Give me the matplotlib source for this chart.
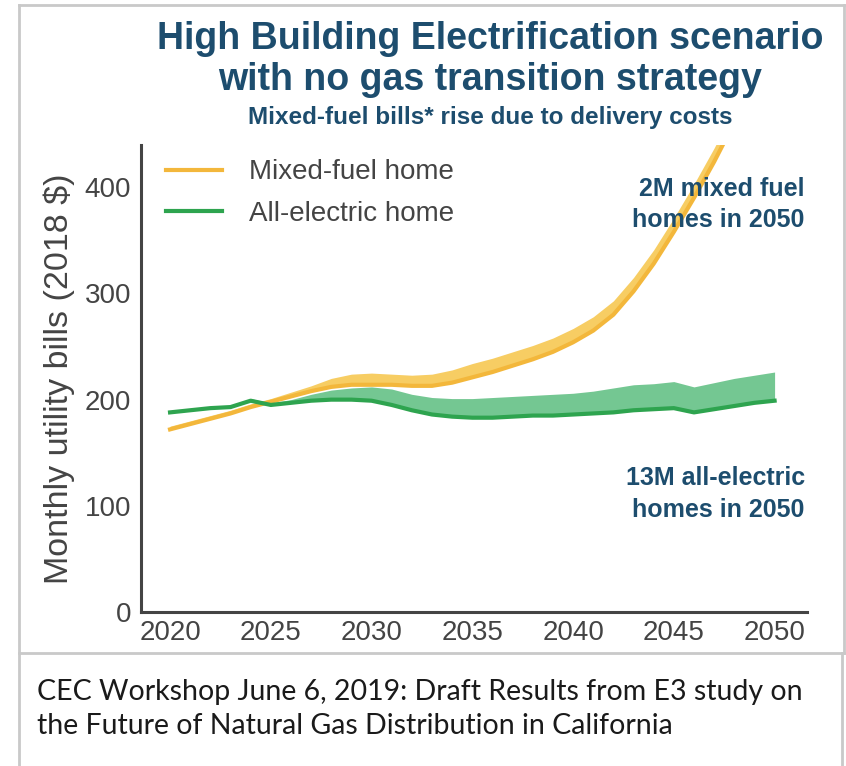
import matplotlib
matplotlib.use('Agg')
import matplotlib.pyplot as plt
from matplotlib.lines import Line2D

# monthly bills, 2018 $
years = list(range(2020, 2051))

mixed_low = [172, 177, 182, 187, 193, 198, 203, 208, 212, 214, 214, 214, 213, 213, 216,
             221, 226, 232, 238, 245, 254, 265, 280, 302, 328, 358, 390, 424, 461, 499, 539]
mixed_high = [175, 180, 185, 190, 196, 201, 207, 213, 220, 224, 225, 224, 223, 224, 228,
              234, 239, 245, 251, 258, 267, 278, 293, 315, 341, 371, 403, 437, 474, 512, 552]

elec_low = [188, 190, 192, 193, 199, 195, 197, 199, 200, 200, 199, 195, 190, 186, 184,
            183, 183, 184, 185, 185, 186, 187, 188, 190, 191, 192, 188, 191, 194, 197, 199]
elec_high = [189, 191, 193, 194, 201, 197, 200, 205, 209, 211, 212, 210, 205, 202, 201,
             201, 202, 203, 204, 205, 206, 208, 211, 214, 215, 217, 212, 216, 220, 223, 226]

yticks = [0, 100, 200, 300, 400]
xticks = [2020, 2025, 2030, 2035, 2040, 2045, 2050]

navy = '#1d4d6e'
gold = '#f3b73b'
gold_band = '#f7cd63'
green = '#2ea44f'
green_band = '#74c792'
axis_grey = '#444444'

plt.rcParams['font.family'] = 'Liberation Sans'

fig = plt.figure(figsize=(8.46, 7.66), dpi=100)
ax = fig.add_axes([0.1667, 0.201, 0.787, 0.610])

ax.fill_between(years, mixed_low, mixed_high, color=gold_band, lw=0)
ax.plot(years, mixed_low, color=gold, lw=3, label='Mixed-fuel home')
ax.fill_between(years, elec_low, elec_high, color=green_band, lw=0)
ax.plot(years, elec_low, color=green, lw=3, label='All-electric home')

ax.set_xlim(2018.56, 2051.6)
ax.set_ylim(0, 440)
ax.set_xticks(xticks)
ax.set_yticks(yticks)
ax.tick_params(length=0, labelsize=20, labelcolor=axis_grey)
ax.tick_params(axis='y', pad=7)
ax.tick_params(axis='x', pad=6)
for side in ['top', 'right']:
    ax.spines[side].set_visible(False)
for side in ['left', 'bottom']:
    ax.spines[side].set_color(axis_grey)
    ax.spines[side].set_linewidth(2.2)

ax.set_ylabel('Monthly utility bills (2018 $)', fontsize=24.5, color=axis_grey, labelpad=7)

leg = ax.legend(loc='upper left', frameon=False, fontsize=20, handlelength=2.0,
                handletextpad=1.0, labelspacing=0.55, bbox_to_anchor=(0.0, 1.022))
for t in leg.get_texts():
    t.set_color(axis_grey)

ax.text(0.997, 0.872, '2M mixed fuel\nhomes in 2050', transform=ax.transAxes,
        ha='right', va='center', fontsize=18, fontweight='bold', color=navy,
        linespacing=1.4)
ax.text(0.997, 0.253, '13M all-electric\nhomes in 2050', transform=ax.transAxes,
        ha='right', va='center', fontsize=18, fontweight='bold', color=navy,
        linespacing=1.4)

fig.text(0.579, 0.949, 'High Building Electrification scenario', ha='center', va='center',
         fontsize=27, fontweight='bold', color=navy)
fig.text(0.579, 0.895, 'with no gas transition strategy', ha='center', va='center',
         fontsize=27, fontweight='bold', color=navy)
fig.text(0.579, 0.846, 'Mixed-fuel bills* rise due to delivery costs', ha='center', va='center',
         fontsize=17.5, fontweight='bold', color=navy)

# page frame around the chart and the caption
frame = '#c9c9c9'
x0, x1, x2 = 19 / 846, 844 / 846, 842 / 846
ytop, ymid = 1 - 5 / 766, 1 - 653 / 766
for xs, ys in [([x0, x1], [ytop, ytop]), ([x0, x0], [ytop, 0]), ([x1, x1], [ytop, ymid]),
               ([x0, x1], [ymid, ymid]), ([x2, x2], [ymid, 0])]:
    fig.add_artist(Line2D(xs, ys, color=frame, lw=2, transform=fig.transFigure))

fig.text(37 / 846, 1 - 692 / 766, 'CEC Workshop June 6, 2019: Draft Results from E3 study on',
         ha='left', va='center', fontsize=20.5, family='Lato', color='#1a1a1a')
fig.text(37 / 846, 1 - 726 / 766, 'the Future of Natural Gas Distribution in California',
         ha='left', va='center', fontsize=20.5, family='Lato', color='#1a1a1a')

fig.savefig('out.png', dpi=100)
